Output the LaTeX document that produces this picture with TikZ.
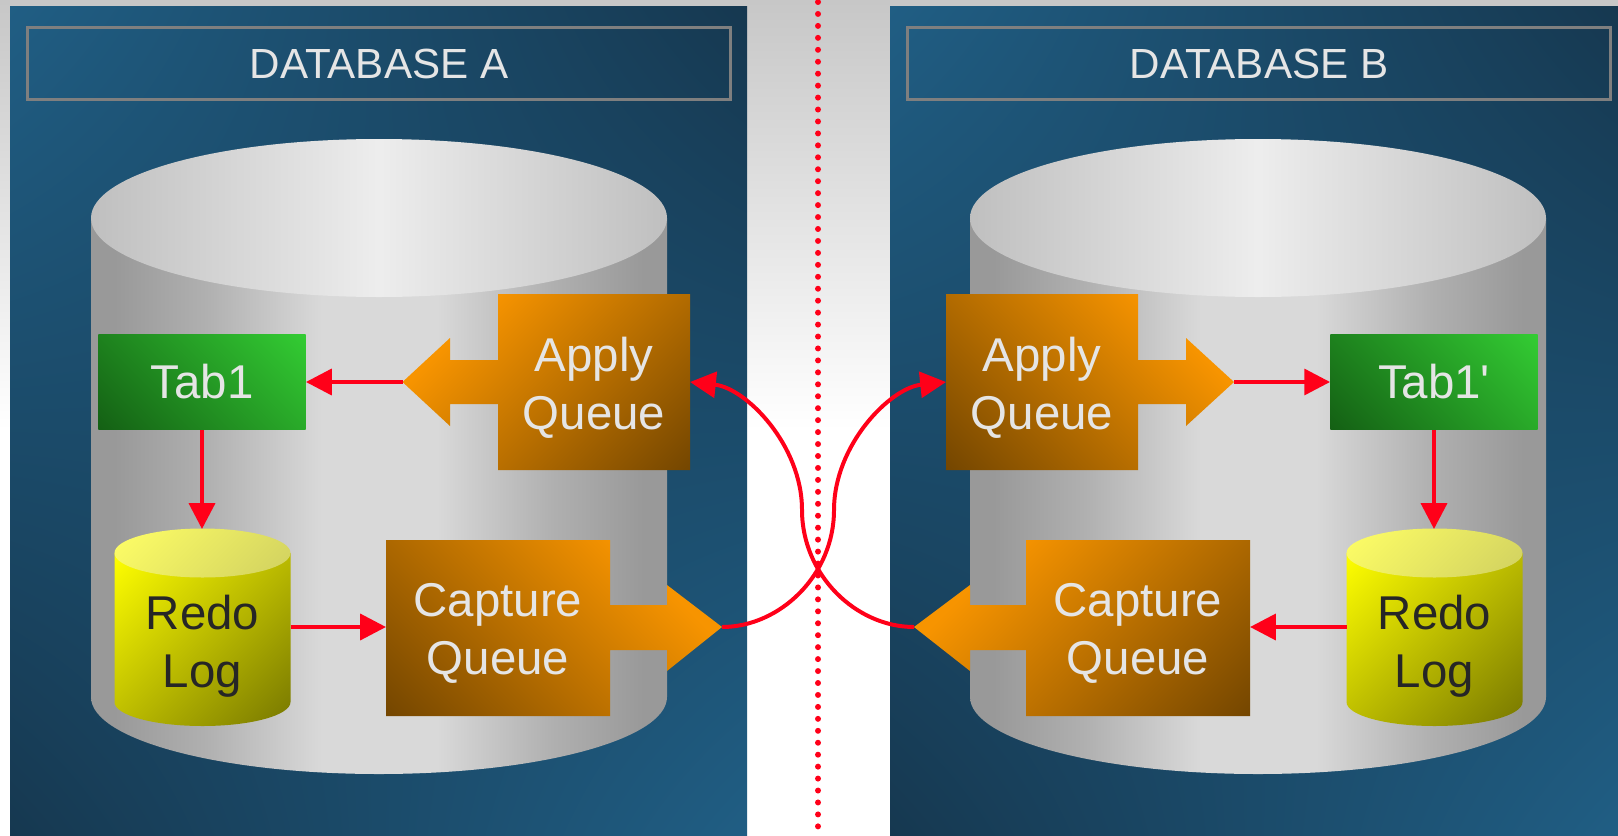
\documentclass[tikz,border=0pt]{standalone}
\usepackage{fontspec}
\setmainfont{Liberation Sans}
\usepackage{xcolor}
\usetikzlibrary{arrows.meta}
\usetikzlibrary{shadings}
\definecolor{panellight}{HTML}{205E84}
\definecolor{paneldark}{HTML}{163850}
\definecolor{framegray}{HTML}{7F7F7F}
\definecolor{wirered}{HTML}{FF0019}
\definecolor{queuelight}{HTML}{F79400}
\definecolor{queuedark}{HTML}{744600}
\definecolor{tablight}{HTML}{33CC33}
\definecolor{tabdark}{HTML}{146014}
\definecolor{loglight}{HTML}{FFFF00}
\definecolor{logdark}{HTML}{777700}
\definecolor{lidlight}{HTML}{FFFF66}
\definecolor{liddark}{HTML}{D0D060}
\definecolor{bodyedge}{HTML}{999999}
\definecolor{bodyside}{HTML}{B0B0B0}
\definecolor{bodymid}{HTML}{D9D9D9}
\pgfdeclarehorizontalshading{bodyfade}{100bp}{color(0bp)=(bodyedge); color(27bp)=(bodyedge); color(35bp)=(bodyside); color(45bp)=(bodymid); color(55bp)=(bodymid); color(65bp)=(bodyside); color(73bp)=(bodyedge); color(100bp)=(bodyedge)}
\pgfdeclareverticalshading{queuefade}{100bp}{color(0bp)=(queuedark); color(14.65bp)=(queuedark); color(71.2bp)=(queuelight); color(100bp)=(queuelight)}
\pgfdeclareverticalshading{tabfade}{100bp}{color(0bp)=(tabdark); color(14.65bp)=(tabdark); color(85.35bp)=(tablight); color(100bp)=(tablight)}
\pgfdeclareverticalshading{logfade}{100bp}{color(0bp)=(logdark); color(14.65bp)=(logdark); color(85.35bp)=(loglight); color(100bp)=(loglight)}
\pgfdeclareverticalshading{lidfade}{100bp}{color(0bp)=(liddark); color(14.65bp)=(liddark); color(85.35bp)=(lidlight); color(100bp)=(lidlight)}
\newcommand\dbpanel[2]{
  \shade[panelshade] (#1, 6) rectangle (#2, 835);
}
\newcommand\dbcylinder[1]{
  \shade[shading=bodyfade] ({#1-288}, 218)--({#1-288}, 697) arc[start angle=180, end angle=0, x radius=288, y radius=77]--({#1+288}, 218)--cycle;
  \shade[lidshade] (#1, 218) ellipse [x radius=288, y radius=79];
}
\newcommand\redolog[1]{
  \shade[shading=logfade, shading angle=45] ({#1-88}, 553)--({#1-88}, 702) arc[start angle=180, end angle=0, x radius=88, y radius=24]--({#1+88}, 553)--cycle;
  \shade[shading=lidfade, shading angle=45] (#1, 553) ellipse [x radius=88, y radius=24.5];
}

\begin{document}
\begin{tikzpicture}[x=0.02cm, y=-0.02cm,
    panelshade/.style={upper left=panellight, upper right=paneldark, lower left=paneldark, lower right=panellight},
    lidshade/.style={left color=black!25, right color=black!25, middle color=black!7},
    titlebox/.style={draw=framegray, line width=1.7pt, text=white!90!black, minimum height=41.4pt, inner sep=0, font=\fontsize{24}{28}\selectfont},
    tabbox/.style={shade, shading=tabfade, shading angle=-45, minimum width=117.9pt, minimum height=54.4pt, inner sep=0},
    bodytext/.style={text=white!90!black, align=center, font=\fontsize{27}{33}\selectfont},
    logtext/.style={text=black!85, align=center, inner sep=0, font=\fontsize{27}{33}\selectfont},
    queueshade/.style={shading=queuefade, shading angle=#1},
    wire/.style={wirered, line width=2.27pt, -{Triangle[length=14.7pt, width=14.7pt]}},
    wirepart/.style={wirered, line width=2.27pt}]
  \useasboundingbox (0, 0) rectangle (1618, 835);
  % backdrop
  \fill[white] (0, 0) rectangle (1618, 835);
  \shade[top color=black!22, bottom color=white] (0, 0) rectangle (1618, 430);
  \dbpanel{10}{747}
  \dbpanel{890}{1618}
  \node[titlebox, minimum width=400.2pt] (titlea) at (379, 63.5) {DATABASE A};
  \node[titlebox, minimum width=400.2pt] (titleb) at (1259, 63.5) {DATABASE B};
  \dbcylinder{379}
  \dbcylinder{1258}
  \redolog{202.5}
  \redolog{1434.5}
  % queues with their arrows
  \shade[queueshade=45] (498, 294)--(690, 294)--(690, 470)--(498, 470)--(498, 404)--(450, 404)--(450, 426)--(402.5, 382)--(450, 338)--(450, 360)--(498, 360)--cycle;
  \shade[queueshade=-45] (1138, 294)--(946, 294)--(946, 470)--(1138, 470)--(1138, 404)--(1186, 404)--(1186, 426)--(1234, 382)--(1186, 338)--(1186, 360)--(1138, 360)--cycle;
  \shade[queueshade=-45] (386, 540)--(610, 540)--(610, 605)--(667, 605)--(667, 585)--(722, 627)--(667, 671)--(667, 650)--(610, 650)--(610, 716)--(386, 716)--cycle;
  \shade[queueshade=45] (1250, 540)--(1026, 540)--(1026, 605)--(970, 605)--(970, 585)--(914, 627)--(970, 671)--(970, 650)--(1026, 650)--(1026, 716)--(1250, 716)--cycle;
  \node[bodytext] (applya) at (594, 388) {Apply\\Queue};
  \node[bodytext] (applyb) at (1042, 388) {Apply\\Queue};
  \node[bodytext] (capturea) at (498, 633) {Capture\\Queue};
  \node[bodytext] (captureb) at (1138, 633) {Capture\\Queue};
  \node[tabbox, bodytext] (taba) at (202, 382) {Tab1};
  \node[tabbox, bodytext] (tabb) at (1434, 382) {Tab1\textquotesingle};
  \node[logtext] (loga) at (202.5, 646) {Redo\\Log};
  \node[logtext] (logb) at (1434.5, 646) {Redo\\Log};
  \coordinate (applyatip) at (402.5, 382);
  \coordinate (applyaside) at (690, 382);
  \coordinate (applybtip) at (1234, 382);
  \coordinate (applybside) at (946, 382);
  \coordinate (captureatip) at (722, 627);
  \coordinate (capturebtip) at (914, 627);
  \coordinate (captureaside) at (386, 627);
  \coordinate (capturebside) at (1250, 627);
  \coordinate (logatop) at (202, 529);
  \coordinate (logbtop) at (1434, 529);
  \coordinate (logaside) at (290.5, 627);
  \coordinate (logbside) at (1346.5, 627);
  \coordinate (bendb) at (834, 510);
  \coordinate (benda) at (802, 510);
  \coordinate (splittop) at (818, 2);
  \coordinate (splitbottom) at (818, 835);
  % split between the two databases
  \draw[wirered, line width=3.4pt, line cap=round, dash pattern=on 0pt off 6.8pt] (splittop)--(splitbottom);
  % links
  \draw[wire] (applyatip)--(taba.east);
  \draw[wire] (applybtip)--(tabb.west);
  \draw[wire] (taba.south)--(logatop);
  \draw[wire] (tabb.south)--(logbtop);
  \draw[wire] (logaside)--(captureaside);
  \draw[wire] (logbside)--(capturebside);
  \draw[wirepart] (captureatip) .. controls (780, 627) and (834, 575) .. (bendb);
  \draw[wire] (bendb) .. controls (834, 445) and (890, 388) .. (applybside);
  \draw[wirepart] (capturebtip) .. controls (856, 627) and (802, 575) .. (benda);
  \draw[wire] (benda) .. controls (802, 445) and (746, 388) .. (applyaside);
\end{tikzpicture}
\end{document}
